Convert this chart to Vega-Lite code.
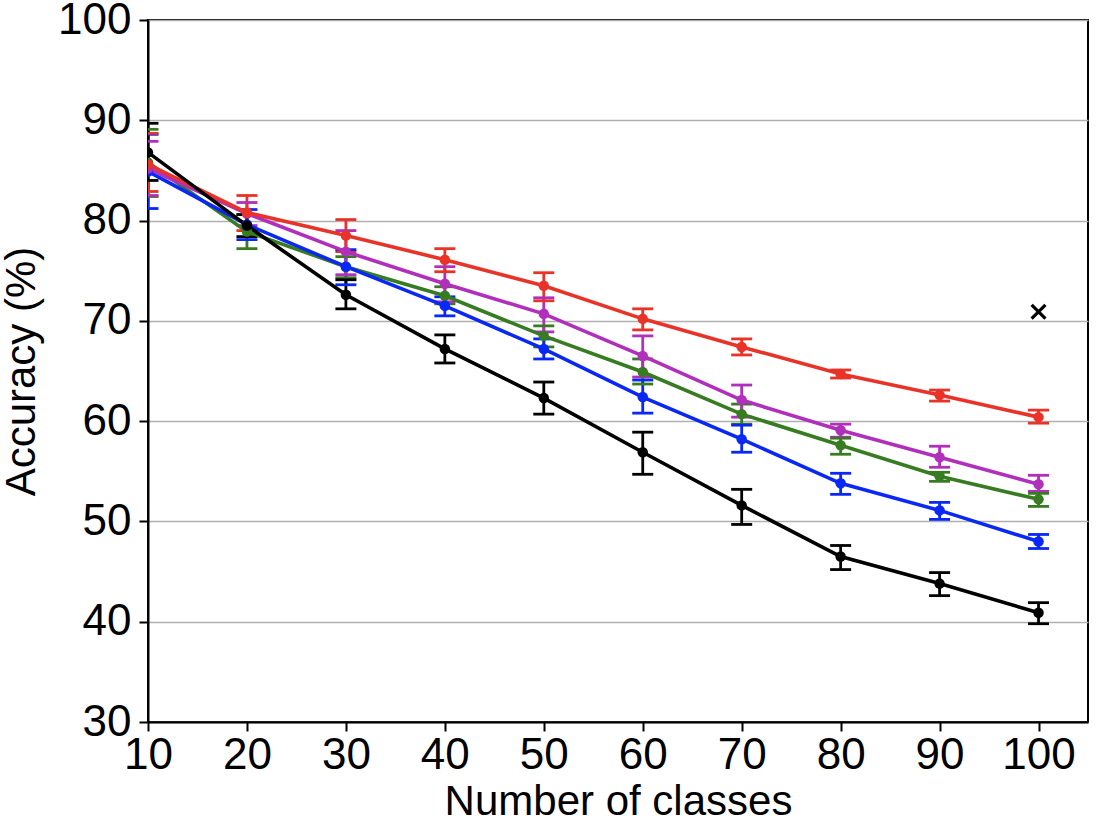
{
  "$schema": "https://vega.github.io/schema/vega-lite/v6.json",
  "autosize": {"type": "none"},
  "padding": {"left": 148, "top": 20, "right": 8, "bottom": 104},
  "width": 940,
  "height": 702,
  "background": "white",
  "view": {"stroke": "black", "strokeWidth": 2},
  "config": {
    "font": "Liberation Sans",
    "axis": {
      "labelFont": "Liberation Sans",
      "titleFont": "Liberation Sans",
      "labelFontSize": 44,
      "titleFontSize": 42,
      "titleFontWeight": "normal",
      "labelColor": "black",
      "titleColor": "black",
      "domainColor": "black",
      "domainWidth": 2,
      "tickColor": "black",
      "tickWidth": 2,
      "tickSize": 9,
      "gridColor": "#b0b0b0",
      "gridWidth": 1.5
    }
  },
  "datasets": {
    "acc": [
      {"series": "green", "classes": 10, "acc": 85.8, "lo": 82.4, "hi": 89.1},
      {"series": "green", "classes": 20, "acc": 78.9, "lo": 77.2, "hi": 80.6},
      {"series": "green", "classes": 30, "acc": 75.4, "lo": 74.3, "hi": 76.4},
      {"series": "green", "classes": 40, "acc": 72.5, "lo": 71.7, "hi": 73.4},
      {"series": "green", "classes": 50, "acc": 68.5, "lo": 67.4, "hi": 69.5},
      {"series": "green", "classes": 60, "acc": 64.9, "lo": 63.7, "hi": 66.2},
      {"series": "green", "classes": 70, "acc": 60.7, "lo": 59.7, "hi": 61.7},
      {"series": "green", "classes": 80, "acc": 57.6, "lo": 56.7, "hi": 58.3},
      {"series": "green", "classes": 90, "acc": 54.5, "lo": 54.0, "hi": 54.9},
      {"series": "green", "classes": 100, "acc": 52.2, "lo": 51.5, "hi": 52.8},
      {"series": "blue", "classes": 10, "acc": 84.9, "lo": 81.2, "hi": 88.6},
      {"series": "blue", "classes": 20, "acc": 79.6, "lo": 78.1, "hi": 81.1},
      {"series": "blue", "classes": 30, "acc": 75.4, "lo": 73.6, "hi": 77.1},
      {"series": "blue", "classes": 40, "acc": 71.5, "lo": 70.5, "hi": 72.4},
      {"series": "blue", "classes": 50, "acc": 67.2, "lo": 66.2, "hi": 68.2},
      {"series": "blue", "classes": 60, "acc": 62.4, "lo": 60.8, "hi": 64.1},
      {"series": "blue", "classes": 70, "acc": 58.2, "lo": 56.9, "hi": 59.6},
      {"series": "blue", "classes": 80, "acc": 53.8, "lo": 52.7, "hi": 54.8},
      {"series": "blue", "classes": 90, "acc": 51.1, "lo": 50.2, "hi": 51.9},
      {"series": "blue", "classes": 100, "acc": 48.0, "lo": 47.3, "hi": 48.7},
      {"series": "magenta", "classes": 10, "acc": 85.2, "lo": 82.5, "hi": 87.9},
      {"series": "magenta", "classes": 20, "acc": 80.7, "lo": 79.5, "hi": 81.8},
      {"series": "magenta", "classes": 30, "acc": 76.9, "lo": 74.6, "hi": 79.0},
      {"series": "magenta", "classes": 40, "acc": 73.7, "lo": 71.9, "hi": 75.4},
      {"series": "magenta", "classes": 50, "acc": 70.7, "lo": 68.9, "hi": 72.3},
      {"series": "magenta", "classes": 60, "acc": 66.5, "lo": 64.4, "hi": 68.5},
      {"series": "magenta", "classes": 70, "acc": 62.1, "lo": 60.4, "hi": 63.6},
      {"series": "magenta", "classes": 80, "acc": 59.1, "lo": 58.4, "hi": 59.7},
      {"series": "magenta", "classes": 90, "acc": 56.4, "lo": 55.4, "hi": 57.5},
      {"series": "magenta", "classes": 100, "acc": 53.7, "lo": 53.0, "hi": 54.6},
      {"series": "red", "classes": 10, "acc": 85.6, "lo": 82.9, "hi": 88.7},
      {"series": "red", "classes": 20, "acc": 80.8, "lo": 79.0, "hi": 82.5},
      {"series": "red", "classes": 30, "acc": 78.5, "lo": 76.9, "hi": 80.1},
      {"series": "red", "classes": 40, "acc": 76.1, "lo": 74.9, "hi": 77.2},
      {"series": "red", "classes": 50, "acc": 73.5, "lo": 72.0, "hi": 74.8},
      {"series": "red", "classes": 60, "acc": 70.2, "lo": 69.1, "hi": 71.2},
      {"series": "red", "classes": 70, "acc": 67.4, "lo": 66.6, "hi": 68.2},
      {"series": "red", "classes": 80, "acc": 64.7, "lo": 64.3, "hi": 65.1},
      {"series": "red", "classes": 90, "acc": 62.6, "lo": 62.0, "hi": 63.1},
      {"series": "red", "classes": 100, "acc": 60.4, "lo": 59.8, "hi": 61.1},
      {"series": "black", "classes": 10, "acc": 86.8, "lo": 84.0, "hi": 89.7},
      {"series": "black", "classes": 20, "acc": 79.5, "lo": 78.4, "hi": 80.6},
      {"series": "black", "classes": 30, "acc": 72.6, "lo": 71.2, "hi": 74.1},
      {"series": "black", "classes": 40, "acc": 67.2, "lo": 65.8, "hi": 68.6},
      {"series": "black", "classes": 50, "acc": 62.3, "lo": 60.7, "hi": 63.9},
      {"series": "black", "classes": 60, "acc": 56.9, "lo": 54.7, "hi": 58.9},
      {"series": "black", "classes": 70, "acc": 51.6, "lo": 49.7, "hi": 53.2},
      {"series": "black", "classes": 80, "acc": 46.5, "lo": 45.2, "hi": 47.6},
      {"series": "black", "classes": 90, "acc": 43.8, "lo": 42.6, "hi": 44.9},
      {"series": "black", "classes": 100, "acc": 40.9, "lo": 39.8, "hi": 41.9}
    ],
    "marker": [
      {"classes": 100, "acc": 70.9}
    ]
  },
  "data": {"name": "acc"},
  "encoding": {
    "x": {
      "field": "classes",
      "type": "quantitative",
      "title": "Number of classes",
      "scale": {"domain": [10, 105], "nice": false, "zero": false},
      "axis": {"values": [10, 20, 30, 40, 50, 60, 70, 80, 90, 100], "grid": false, "labelPadding": 2, "titlePadding": 4, "labelFlush": false}
    },
    "color": {
      "field": "series",
      "type": "nominal",
      "scale": {
        "domain": ["green", "blue", "magenta", "red", "black"],
        "range": ["#377b22", "#0a28f5", "#b02fbb", "#ea3328", "#000000"]
      },
      "legend": null
    }
  },
  "layer": [
    {
      "mark": {"type": "rule", "strokeWidth": 2.8, "opacity": 1, "clip": true},
      "encoding": {
        "y": {
          "field": "lo",
          "type": "quantitative",
          "title": "Accuracy (%)",
          "scale": {"domain": [30, 100], "nice": false, "zero": false},
          "axis": {"values": [30, 40, 50, 60, 70, 80, 90, 100], "grid": true, "labelPadding": 8, "titlePadding": 14}
        },
        "y2": {"field": "hi"}
      }
    },
    {
      "mark": {"type": "tick", "orient": "horizontal", "size": 21, "thickness": 2.8, "opacity": 1, "clip": true},
      "encoding": {"y": {"field": "lo", "type": "quantitative"}}
    },
    {
      "mark": {"type": "tick", "orient": "horizontal", "size": 21, "thickness": 2.8, "opacity": 1, "clip": true},
      "encoding": {"y": {"field": "hi", "type": "quantitative"}}
    },
    {
      "mark": {"type": "line", "strokeWidth": 3.6, "clip": true, "point": {"filled": true, "size": 110, "opacity": 1, "clip": true}},
      "encoding": {"y": {"field": "acc", "type": "quantitative"}}
    },
    {
      "data": {"name": "marker"},
      "mark": {
        "type": "point",
        "shape": "M-1,-1L1,1M1,-1L-1,1",
        "filled": false,
        "size": 190,
        "stroke": "black",
        "strokeWidth": 3.2,
        "opacity": 1
      },
      "encoding": {
        "y": {"field": "acc", "type": "quantitative"},
        "color": {"value": "black"}
      }
    }
  ]
}
